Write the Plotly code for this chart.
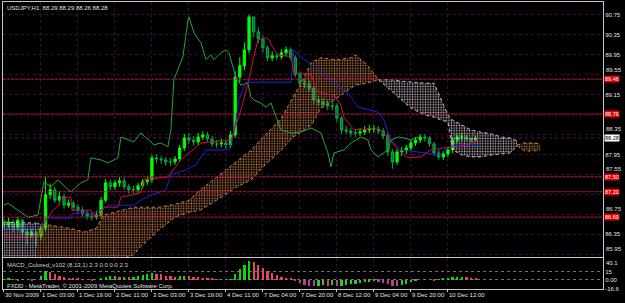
import plotly.graph_objects as go

# ---------------- data ----------------
bar_idx = list(range(0, 206, 2))   # 2-hour steps on an hourly bar index

opens = [86.56, 86.53, 86.59, 86.47, 86.63, 86.39, 86.33, 86.37, 86.31, 86.47,
         87.14, 87.24, 87.03, 87.10, 86.93, 86.97, 86.89, 86.83, 86.77, 86.71,
         86.69, 86.73, 87.03, 87.38, 87.30, 87.38, 87.42, 87.30, 87.24, 87.24,
         87.32, 87.40, 87.44, 87.88, 87.86, 87.84, 87.80, 87.80, 87.86, 88.08,
         88.28, 88.24, 88.20, 88.30, 88.34, 88.26, 88.16, 88.16, 88.18, 88.14,
         88.34, 89.50, 89.73, 90.05, 90.71, 90.41, 90.27, 90.09, 89.89, 89.93,
         89.91, 89.99, 90.05, 89.89, 89.56, 89.38, 89.36, 89.28, 89.04, 89.00,
         88.96, 88.92, 88.92, 88.68, 88.44, 88.42, 88.38, 88.38, 88.40, 88.44,
         88.46, 88.46, 88.42, 88.32, 88.00, 87.80, 88.00, 88.02, 88.08, 88.18,
         88.24, 88.30, 88.28, 88.16, 87.98, 87.90, 87.96, 88.04, 88.24, 88.30,
         88.30, 88.26, 88.24]
highs = [86.66, 86.68, 86.64, 86.70, 86.66, 86.45, 86.44, 86.42, 86.55, 87.50,
         87.36, 87.30, 87.22, 87.16, 87.05, 87.02, 86.95, 86.90, 86.82, 86.78,
         86.82, 87.10, 87.46, 87.45, 87.44, 87.50, 87.48, 87.36, 87.32, 87.38,
         87.46, 87.52, 87.94, 87.96, 87.92, 87.90, 87.88, 87.92, 88.14, 88.36,
         88.38, 88.32, 88.38, 88.42, 88.40, 88.32, 88.24, 88.26, 88.24, 88.42,
         89.62, 89.90, 90.20, 90.76, 90.72, 90.50, 90.34, 90.14, 90.02, 90.00,
         90.06, 90.12, 90.10, 89.94, 89.62, 89.48, 89.44, 89.32, 89.12, 89.08,
         89.04, 89.02, 88.98, 88.72, 88.52, 88.48, 88.46, 88.48, 88.52, 88.54,
         88.54, 88.52, 88.48, 88.38, 88.06, 88.06, 88.10, 88.14, 88.24, 88.30,
         88.36, 88.36, 88.32, 88.20, 88.04, 88.02, 88.10, 88.30, 88.36, 88.38,
         88.34, 88.30, 88.32]
lows = [86.44, 86.46, 86.40, 86.42, 86.32, 86.14, 86.28, 86.10, 86.22, 86.40,
        87.06, 86.98, 86.96, 86.86, 86.88, 86.82, 86.76, 86.70, 86.64, 86.62,
        86.64, 86.68, 86.98, 87.22, 87.24, 87.30, 87.24, 87.16, 87.16, 87.18,
        87.26, 87.34, 87.38, 87.78, 87.76, 87.72, 87.72, 87.74, 87.80, 88.02,
        88.16, 88.12, 88.14, 88.24, 88.20, 88.10, 88.08, 88.10, 88.06, 88.08,
        88.28, 89.40, 89.64, 89.98, 90.30, 90.18, 90.00, 89.82, 89.82, 89.84,
        89.86, 89.92, 89.84, 89.50, 89.30, 89.28, 89.20, 88.96, 88.92, 88.88,
        88.84, 88.84, 88.60, 88.36, 88.36, 88.30, 88.30, 88.32, 88.34, 88.38,
        88.38, 88.36, 88.26, 87.92, 87.66, 87.74, 87.92, 87.96, 88.02, 88.12,
        88.18, 88.20, 88.10, 87.92, 87.84, 87.84, 87.90, 87.98, 88.18, 88.22,
        88.22, 88.18, 88.20]
closes = [86.53, 86.59, 86.47, 86.63, 86.39, 86.33, 86.37, 86.31, 86.47, 87.14,
          87.24, 87.03, 87.10, 86.93, 86.97, 86.89, 86.83, 86.77, 86.71, 86.69,
          86.73, 87.03, 87.38, 87.30, 87.38, 87.42, 87.30, 87.24, 87.24, 87.32,
          87.40, 87.44, 87.88, 87.86, 87.84, 87.80, 87.80, 87.86, 88.08, 88.28,
          88.24, 88.20, 88.30, 88.34, 88.26, 88.16, 88.16, 88.18, 88.14, 88.34,
          89.50, 89.73, 90.05, 90.71, 90.41, 90.27, 90.09, 89.89, 89.93, 89.91,
          89.99, 90.05, 89.89, 89.56, 89.38, 89.36, 89.28, 89.04, 89.00, 88.96,
          88.92, 88.92, 88.68, 88.44, 88.42, 88.38, 88.38, 88.40, 88.44, 88.46,
          88.46, 88.42, 88.32, 88.00, 87.80, 88.00, 88.02, 88.08, 88.18, 88.24,
          88.30, 88.28, 88.16, 87.98, 87.90, 87.96, 88.04, 88.24, 88.30, 88.30,
          88.26, 88.24, 88.28]

tenkan_x = [0, 15.1, 18.2, 21.2, 23.8, 24.6, 29.0, 29.4, 37.6, 38.9, 41.9, 43.2, 49.3, 50.6,
            59.2, 60.5, 70.9, 76.5, 85.2, 98.2, 99.9, 102.5, 105.5, 108.1, 109.8, 113.3,
            114.6, 116.8, 118.5, 124.1, 125.4, 132.8, 135.8, 142.7, 145.7, 147.0, 151.4,
            161.7, 166.1, 170.4, 174.7, 180.3, 184.6, 190.3, 196.3, 203.2, 205.4]
tenkan_y = [86.29, 86.31, 86.63, 86.83, 86.93, 87.09, 87.09, 86.83, 86.83, 86.73, 86.73, 86.89,
            86.89, 87.09, 87.18, 87.44, 87.50, 87.84, 88.18, 88.24, 88.48, 88.84, 89.38, 89.91,
            90.25, 90.29, 90.25, 90.05, 89.95, 89.91, 89.59, 89.55, 89.20, 89.14, 88.94, 88.70,
            88.44, 88.48, 88.30, 88.04, 87.88, 87.90, 88.04, 88.08, 88.10, 88.18, 88.30]

kijun_x = [0, 14.7, 18.2, 29.0, 29.8, 38.9, 41.9, 45.4, 56.2, 59.2, 63.6, 70.1, 72.2, 78.7,
           83.0, 87.4, 97.3, 99.5, 101.6, 104.6, 124.1, 125.4, 128.4, 134.1, 141.4, 148.8,
           153.1, 161.7, 164.3, 166.1, 168.6, 171.7, 189.0, 190.3, 194.6, 205.4]
kijun_y = [86.47, 86.47, 86.67, 86.67, 86.77, 86.77, 86.83, 86.93, 86.93, 87.03, 87.13, 87.24,
           87.54, 87.64, 87.74, 88.04, 88.04, 88.38, 89.04, 89.40, 89.40, 90.05, 89.91, 89.71,
           89.45, 89.18, 88.90, 88.80, 88.64, 88.38, 88.18, 88.04, 87.94, 88.04, 88.14, 88.14]

chikou_x = [0, 1.7, 6.1, 10.4, 14.7, 17.3, 20.3, 23.4, 27.7, 29.0, 33.3, 36.3, 37.6, 41.9, 45.0,
            49.3, 50.6, 53.6, 56.2, 59.2, 62.3, 64.9, 67.9, 70.9, 72.2, 73.5, 75.2, 77.4, 79.6,
            80.0, 82.2, 85.2, 87.4, 89.5, 90.8, 93.8, 96.0, 97.3, 99.0, 100.3, 102.5, 105.5,
            106.8, 108.1, 111.1, 113.3, 115.5, 117.6, 119.8, 124.1, 128.4, 132.8, 137.1, 140.1,
            141.4, 142.7, 147.0, 150.1, 154.4, 157.4, 158.7, 161.7, 166.1, 167.4, 170.4, 173.0,
            176.0, 179.0]
chikou_y = [86.93, 86.97, 86.83, 86.69, 86.73, 87.40, 87.30, 87.44, 87.24, 87.20, 87.38, 87.44,
            87.88, 87.84, 87.78, 87.88, 88.30, 88.24, 88.20, 88.38, 88.24, 88.14, 88.18, 88.10,
            88.44, 89.45, 89.65, 89.91, 90.65, 90.71, 90.39, 90.19, 89.85, 89.95, 89.85, 89.99,
            90.05, 89.99, 89.71, 89.50, 89.34, 89.38, 89.10, 89.04, 88.98, 88.90, 88.98, 88.70,
            88.44, 88.38, 88.40, 88.48, 88.38, 87.98, 87.70, 87.98, 88.04, 88.18, 88.30, 88.24,
            88.04, 87.90, 88.04, 88.24, 88.30, 88.28, 88.24, 88.30]

# Ichimoku cloud pieces (upper / lower edge)
cloud_a_x = [0, 14]
cloud_a_top = [86.59, 86.57]
cloud_a_bot = [85.79, 85.79]

cloud_b_x = [14, 19, 28, 35, 40, 43, 46, 56, 59, 67, 74, 80, 85, 92, 100, 107, 113, 120, 125,
             128, 133, 137, 144, 150, 152, 157, 162]
cloud_b_top = [86.57, 86.53, 86.47, 86.39, 86.47, 86.73, 86.77, 86.89, 86.89, 86.89, 86.95, 87.03,
               87.24, 87.50, 87.78, 88.04, 88.34, 88.68, 89.10, 89.34, 89.80, 89.89, 89.85, 89.89,
               89.95, 89.75, 89.45]
cloud_b_bot = [85.79, 85.79, 85.79, 85.79, 85.79, 85.79, 85.79, 85.93, 86.09, 86.43, 86.69, 86.79,
               86.83, 87.03, 87.28, 87.44, 87.74, 88.04, 88.30, 88.38, 88.54, 88.88, 89.08, 89.28,
               89.34, 89.38, 89.45]

cloud_c_x = [162, 167, 172, 176, 182, 186, 189, 192, 194, 198, 202, 206, 211, 215, 219, 222]
cloud_c_top = [89.45, 89.45, 89.42, 89.40, 89.38, 89.38, 89.04, 88.74, 88.64, 88.54, 88.44, 88.40,
               88.36, 88.30, 88.28, 88.22]
cloud_c_bot = [89.45, 89.24, 89.04, 88.88, 88.74, 88.70, 88.64, 88.60, 88.04, 87.94, 87.90, 87.90,
               87.94, 87.96, 87.98, 88.12]

cloud_d_x = [222, 225, 229, 232]
cloud_d_top = [88.14, 88.18, 88.18, 88.16]
cloud_d_bot = [88.12, 88.02, 88.02, 88.04]

level_prices = [89.46, 88.76, 87.50, 87.20, 86.69]
bid_price = 88.28

macd = [1, 2, 1, -1, 1, 0, -1, 0, 8, 16,
        14, 10, 7, 5, 4, 3, 2, 1, 0, -1,
        0, 2, 5, 7, 7, 6, 6, 5, 6, 8,
        9, 11, 12, 11, 10, 8, 7, 6, 7, 8,
        7, 6, 5, 4, 3, 2, 1, 1, 0, 1,
        10, 20, 28, 35, 33, 28, 22, 17, 12, 9,
        6, 4, 2, -2, -6, -9, -11, -12, -12, -10,
        -11, -10, -12, -12, -10, -8, -7, -5, -4, -3,
        -2, -3, -5, -8, -11, -12, -10, -7, -4, -2,
        0, 1, 0, -1, 1, 2, 3, 5, 6, 6,
        5, 4, 3]

time_ticks = [0, 16, 32, 48, 64, 80, 96, 112, 128, 144, 160, 176, 192]
time_labels = ["30 Nov 2009", "1 Dec 03:00", "1 Dec 19:00", "2 Dec 11:00", "3 Dec 03:00",
               "3 Dec 19:00", "4 Dec 11:00", "7 Dec 04:00", "7 Dec 20:00", "8 Dec 12:00",
               "9 Dec 04:00", "9 Dec 20:00", "10 Dec 12:00"]
price_ticks = [90.75, 90.35, 89.95, 89.55, 89.15, 88.75, 88.35, 87.95, 87.55, 87.15, 86.75,
               86.35, 85.95]
# tick labels that sit just above a price box (drawn as nudged text) / hidden behind one
nudged_ticks = [89.55, 88.35, 87.55, 86.75, 85.95]
hidden_ticks = [88.75, 87.15]
macd_ticks = [15, 0, -16.6]
macd_labels = ["15", "0.00", "-16.6"]
macd_top_label = "40.1"

# ---------------- styling ----------------
FONT = "Liberation Sans"
GRID = "#40093e"
FRAME = "#c8c8c8"
ORANGE = "#c98045"
THISTLE = "#cbbccb"
TXT = "#e0e0e0"

fig = go.Figure()


def add_cloud(xs, top, bot, color):
    fig.add_trace(go.Scatter(x=xs, y=bot, mode="lines", xaxis="x", yaxis="y",
                             line=dict(color=color, width=1, dash="dot"),
                             hoverinfo="skip", showlegend=False))
    fig.add_trace(go.Scatter(x=xs, y=top, mode="lines", xaxis="x", yaxis="y",
                             line=dict(color=color, width=1, dash="dot"),
                             fill="tonexty", fillcolor="rgba(0,0,0,0)",
                             fillpattern=dict(shape=".", fgcolor=color,
                                              bgcolor="rgba(0,0,0,0)", size=2.6,
                                              solidity=0.28),
                             hoverinfo="skip", showlegend=False))


add_cloud(cloud_a_x, cloud_a_top, cloud_a_bot, THISTLE)
add_cloud(cloud_b_x, cloud_b_top, cloud_b_bot, ORANGE)
add_cloud(cloud_c_x, cloud_c_top, cloud_c_bot, THISTLE)
add_cloud(cloud_d_x, cloud_d_top, cloud_d_bot, ORANGE)

fig.add_trace(go.Candlestick(x=bar_idx, open=opens, high=highs, low=lows, close=closes,
                             xaxis="x", yaxis="y", whiskerwidth=0,
                             increasing=dict(line=dict(color="#00ff00", width=1),
                                             fillcolor="#00ff00"),
                             decreasing=dict(line=dict(color="#00b040", width=1),
                                             fillcolor="#00704a"),
                             showlegend=False, hoverinfo="skip"))

fig.add_trace(go.Scatter(x=chikou_x, y=chikou_y, mode="lines", xaxis="x", yaxis="y",
                         line=dict(color="#1fa83a", width=1), showlegend=False))
fig.add_trace(go.Scatter(x=kijun_x, y=kijun_y, mode="lines", xaxis="x", yaxis="y",
                         line=dict(color="#2020e0", width=1), showlegend=False))
fig.add_trace(go.Scatter(x=tenkan_x, y=tenkan_y, mode="lines", xaxis="x", yaxis="y",
                         line=dict(color="#d0103c", width=1), showlegend=False))

# MACD histogram colours from direction of change
macd_colors = []
for i, v in enumerate(macd):
    prev = macd[i - 1] if i > 0 else v
    if v >= 0:
        macd_colors.append("#00ff00" if v >= prev else "#e01030")
    else:
        macd_colors.append("#a0106a" if v < prev else "#00b000")

fig.add_trace(go.Bar(x=bar_idx, y=macd, xaxis="x2", yaxis="y2", width=1.0,
                     marker=dict(color=macd_colors, line=dict(width=0),
                                 pattern=dict(shape="-", fgcolor="black", size=2,
                                              solidity=0.45, fillmode="overlay")),
                     showlegend=False, hoverinfo="skip"))

shapes = []
for lv in level_prices:
    shapes.append(dict(type="line", xref="x domain", yref="y", x0=0, x1=1, y0=lv, y1=lv,
                       line=dict(color="#c0103a", width=1, dash="3px,1px"), layer="above"))
shapes.append(dict(type="line", xref="x domain", yref="y", x0=0, x1=1, y0=bid_price,
                   y1=bid_price, line=dict(color="#5a1656", width=1, dash="dot"),
                   layer="below"))

price_ticktext = []
for t in price_ticks:
    price_ticktext.append("" if (t in nudged_ticks or t in hidden_ticks) else f"{t:.2f}")

annotations = []
for t in nudged_ticks:
    annotations.append(dict(xref="paper", x=1, xanchor="left", yref="y", y=t,
                            yanchor="bottom", text=f"{t:.2f}", showarrow=False,
                            xshift=2, yshift=1, borderpad=0,
                            font=dict(family=FONT, size=6, color=TXT)))
for lv in level_prices:
    annotations.append(dict(xref="paper", x=1, xanchor="left", yref="y", y=lv,
                            yanchor="middle", text=f"{lv:.2f}", showarrow=False,
                            bgcolor="#e00000", borderpad=0, xshift=1,
                            font=dict(family=FONT, size=5.5, color="white")))
annotations.append(dict(xref="paper", x=1, xanchor="left", yref="y", y=bid_price,
                        yanchor="middle", text=f"{bid_price:.2f}", showarrow=False,
                        bgcolor="white", borderpad=0, xshift=1,
                        font=dict(family=FONT, size=5.5, color="black")))
annotations.append(dict(xref="paper", x=1, xanchor="left", yref="y2 domain", y=1,
                        yanchor="top", text=macd_top_label, showarrow=False,
                        xshift=2, yshift=-1, borderpad=0,
                        font=dict(family=FONT, size=6, color=TXT)))
annotations.append(dict(xref="paper", x=0, xanchor="left", yref="paper", y=1,
                        yanchor="top", xshift=2, yshift=-1, showarrow=False,
                        text="USDJPY,H1  88.29 88.29 88.26 88.28",
                        font=dict(family=FONT, size=6, color=TXT)))
annotations.append(dict(xref="paper", x=0, xanchor="left", yref="y2 domain", y=1,
                        yanchor="top", xshift=2, yshift=-2, showarrow=False,
                        text="MACD_Colored_v102 (8,13,1) 2.3 0.0 0.0 2.3",
                        font=dict(family=FONT, size=6, color="#d0d0d0")))
annotations.append(dict(xref="paper", x=0, xanchor="left", yref="y2 domain", y=0,
                        yanchor="bottom", xshift=2, yshift=-2, showarrow=False,
                        text="FXDD - MetaTrader, \u00a9 2001-2009 MetaQuotes Software Corp.",
                        font=dict(family=FONT, size=6, color=TXT)))

x_range = [-0.4, 259.06]
fig.update_layout(
    template="none",
    width=625, height=303,
    margin=dict(l=3, r=22, t=2, b=14),
    paper_bgcolor="black", plot_bgcolor="black",
    font=dict(family=FONT, size=6, color=TXT),
    showlegend=False,
    bargap=0,
    xaxis=dict(domain=[0, 1], range=x_range, anchor="y", tickvals=time_ticks,
               showticklabels=False, ticks="", showgrid=True, gridcolor=GRID,
               griddash="dot", gridwidth=1, zeroline=False, rangeslider=dict(visible=False),
               showline=True, linecolor=FRAME, linewidth=1, mirror=True, automargin=False),
    xaxis2=dict(domain=[0, 1], range=x_range, anchor="y2", matches="x", tickvals=time_ticks,
                ticktext=time_labels, ticklabelposition="outside right", ticks="outside",
                tickangle=0, ticklen=2, tickcolor=FRAME,
                tickfont=dict(family=FONT, size=6, color=TXT),
                showgrid=True, gridcolor=GRID, griddash="dot", zeroline=False,
                showline=True, linecolor=FRAME, linewidth=1, mirror=True, automargin=False),
    yaxis=dict(domain=[0.1115, 1], range=[85.89, 91.01], anchor="x", side="right",
               tickvals=price_ticks, ticktext=price_ticktext, ticks="",
               tickfont=dict(family=FONT, size=6, color=TXT),
               showgrid=True, gridcolor=GRID, griddash="dot", zeroline=False,
               showline=True, linecolor=FRAME, linewidth=1, mirror=True, automargin=False),
    yaxis2=dict(domain=[0, 0.108], range=[-16.6, 40.1], anchor="x2", side="right",
                tickvals=macd_ticks, ticktext=macd_labels, ticks="",
                tickfont=dict(family=FONT, size=6, color=TXT),
                showgrid=True, gridcolor="#707070", griddash="dot", zeroline=False,
                showline=True, linecolor=FRAME, linewidth=1, mirror=True, automargin=False),
    shapes=shapes,
    annotations=annotations,
)

fig.write_html("out.html")
